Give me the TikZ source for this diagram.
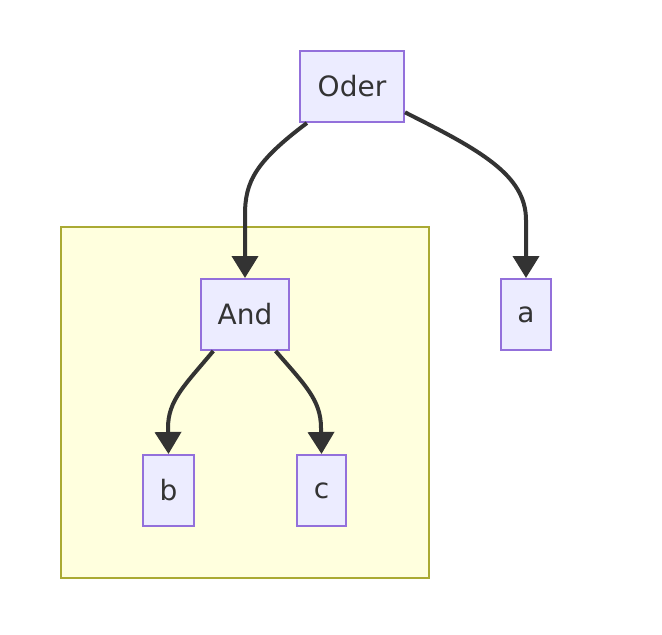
\documentclass[tikz,border=0pt]{standalone}
\usepackage{fontspec}
\setmainfont{DejaVu Sans}
\usetikzlibrary{arrows.meta}
\definecolor{nodefill}{HTML}{ECECFF}
\definecolor{nodeline}{HTML}{9370DB}
\definecolor{clusterfill}{HTML}{FFFFDE}
\definecolor{clusterline}{HTML}{AAAA33}
\definecolor{edgecol}{HTML}{333333}
\tikzset{
  box/.style={draw=nodeline, fill=nodefill, line width=2pt, inner sep=0pt,
    minimum height=71pt, text=edgecol, font=\fontsize{28}{32}\selectfont},
  edge/.style={draw=edgecol, line width=4pt,
    -{Triangle[length=22pt,width=26pt]}},
}
\begin{document}
\begin{tikzpicture}[x=1pt,y=-1pt]
\useasboundingbox (0,0) rectangle (662,635);
\fill[white] (0,0) rectangle (662,635);
\draw[clusterline, fill=clusterfill, line width=2pt] (61,227) rectangle (429,578);
\node[box, minimum width=104pt] (Oder) at (352,86.5) {Oder};
\node[box, minimum width=88pt] (And) at (245,314.5) {And};
\node[box, minimum width=50pt] (a) at (526,314.5) {a};
\node[box, minimum width=51pt] (b) at (168.5,490.5) {b};
\node[box, minimum width=49pt] (c) at (321.5,490.5) {c};
\draw[edge] (Oder.219) .. controls (255,162) and (245,182) .. (245,215) -- (And.north);
\draw[edge] (Oder.-26) .. controls (480,150) and (526,175) .. (526,220) -- (a.north);
\draw[edge] (And.229) .. controls (185,385) and (168,400) .. (168,428) -- (b.north);
\draw[edge] (And.310) .. controls (305,385) and (321,400) .. (321,428) -- (c.north);
\end{tikzpicture}
\end{document}
